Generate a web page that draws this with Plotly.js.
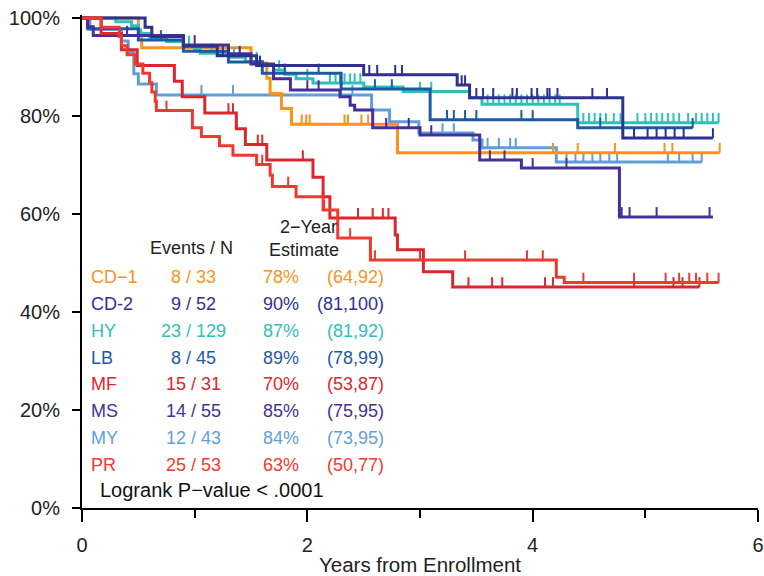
<!DOCTYPE html>
<html>
<head>
<meta charset="utf-8">
<script src="https://cdn.plot.ly/plotly-3.0.1.min.js"></script>
<style>html,body{margin:0;padding:0;background:#fff}#chart{width:764px;height:576px}</style>
</head>
<body>
<div id="chart"></div>
<script>
// ---- Data (years from enrollment, survival %) ----
const groups   = ['CD\u22121', 'CD-2', 'HY', 'LB', 'MF', 'MS', 'MY', 'PR'];
const nEvents  = [8, 9, 23, 8, 15, 14, 12, 25];
const nTotal   = [33, 52, 129, 45, 31, 55, 43, 53];
const est2yr   = [78, 90, 87, 89, 70, 85, 84, 63];
const ciLow    = [64, 81, 81, 78, 53, 75, 73, 50];
const ciHigh   = [92, 100, 92, 99, 87, 95, 95, 77];
const colors   = ['#f7941d', '#2e3192', '#2fc0b8', '#1d5aa3', '#d9272e', '#45309a', '#5f9fd8', '#ee3a30'];
const yTickVals = [0, 20, 40, 60, 80, 100];
const yTickText = ['0%', '20%', '40%', '60%', '80%', '100%'];
const xTickVals = [0, 2, 4, 6];
const xTickText = ['0', '2', '4', '6'];
const xMinorVals = [1, 3, 5];

const cd1_t = [0, 0.50, 0.53, 1.50, 1.64, 1.67, 1.77, 1.86, 2.80, 5.66];
const cd1_s = [100, 97.0, 93.9, 90.8, 87.7, 84.6, 81.5, 78.3, 72.5, 72.5];
const cd1_c = [1.95, 1.99, 2.02, 2.33, 2.36, 2.48, 2.54, 3.53, 4.18, 4.40, 4.73, 5.17, 5.24, 5.66];

const cd2_t = [0, 0.56, 0.62, 0.90, 1.20, 1.55, 2.50, 3.33, 3.44, 4.80, 5.60];
const cd2_s = [100, 98.1, 96.2, 94.2, 92.3, 90.3, 88.4, 86.3, 83.7, 75.5, 75.5];
const cd2_c = [1.25, 1.30, 1.40, 1.58, 2.55, 2.62, 2.78, 2.84, 3.37, 3.40, 3.50, 3.56, 3.65, 3.82, 3.86, 3.99, 4.04, 4.13, 4.15, 4.22, 4.53, 4.66, 4.90, 5.02, 5.10, 5.18, 5.26, 5.34, 5.60];

const hy_t = [0, 0.30, 0.44, 0.50, 0.52, 0.60, 0.75, 0.90, 1.00, 1.05, 1.30, 1.45, 1.60, 1.70, 1.80, 1.90, 2.05, 2.50, 2.85, 3.44, 3.55, 4.40, 5.65];
const hy_s = [100, 99.2, 98.4, 97.6, 96.8, 96.0, 95.2, 94.4, 93.6, 92.8, 92.0, 91.1, 90.3, 89.4, 88.5, 87.6, 86.7, 85.9, 85.0, 83.7, 82.4, 78.6, 78.6];
const hy_c = [0.95, 1.15, 1.35, 1.55, 1.75, 2.00, 2.20, 2.25, 2.29, 2.33, 2.38, 2.42, 2.47, 3.00, 3.10, 3.60, 3.65, 3.70, 3.75, 3.80, 3.85, 3.90, 3.95, 4.00, 4.05, 4.10, 4.15, 4.20, 4.24, 4.45, 4.50, 4.55, 4.60, 4.65, 4.72, 4.78, 4.93, 5.00, 5.05, 5.10, 5.15, 5.20, 5.25, 5.30, 5.38, 5.45, 5.50, 5.55, 5.60, 5.65];

const lb_t = [0, 0.05, 0.50, 0.90, 1.30, 1.60, 2.30, 3.09, 4.40, 5.42];
const lb_s = [100, 97.8, 95.5, 93.2, 91.0, 88.7, 85.5, 79.2, 77.6, 77.6];
const lb_c = [0.70, 1.80, 2.10, 2.60, 2.75, 3.24, 3.30, 3.40, 3.50, 3.90, 4.00, 4.60, 5.42];

const mf_t = [0, 0.17, 0.35, 0.49, 0.82, 0.89, 1.09, 1.37, 1.45, 1.64, 2.05, 2.14, 2.20, 2.78, 2.80, 3.03, 3.29, 5.48];
const mf_s = [100, 96.8, 93.5, 90.3, 87.1, 83.9, 80.6, 77.4, 74.2, 71.0, 67.5, 63.5, 59.2, 55.7, 52.7, 48.2, 45.1, 45.1];
const mf_c = [1.30, 1.34, 1.56, 1.60, 1.96, 2.45, 2.58, 2.67, 2.72, 3.43, 3.64, 3.73, 4.11, 4.18, 4.90, 5.25, 5.33, 5.48];

const ms_t = [0, 0.05, 0.10, 0.90, 1.30, 1.50, 1.70, 1.85, 2.29, 2.38, 2.42, 2.58, 3.00, 3.53, 3.90, 4.77, 5.60];
const ms_s = [100, 98.2, 96.4, 94.5, 92.7, 90.6, 87.6, 85.3, 83.9, 82.2, 81.2, 77.6, 76.1, 71.0, 69.4, 59.4, 59.4];
const ms_c = [0.40, 1.00, 2.00, 2.10, 2.70, 2.90, 3.10, 3.62, 3.75, 4.00, 4.30, 4.79, 4.86, 5.10, 5.57];

const my_t = [0, 0.07, 0.35, 0.41, 0.46, 0.50, 0.66, 2.57, 2.73, 2.99, 3.47, 3.55, 4.21, 5.50];
const my_s = [100, 97.7, 95.3, 93.0, 88.6, 86.5, 84.3, 81.2, 78.8, 76.5, 75.1, 73.5, 70.6, 70.6];
const my_c = [1.06, 1.34, 2.30, 2.40, 3.20, 3.30, 3.60, 3.70, 3.80, 3.85, 4.30, 4.38, 4.45, 4.53, 4.60, 4.68, 4.75, 5.20, 5.30, 5.42, 5.50];

const pr_t = [0, 0.17, 0.33, 0.35, 0.40, 0.47, 0.54, 0.60, 0.62, 0.65, 0.66, 0.98, 1.06, 1.22, 1.34, 1.55, 1.67, 1.69, 1.90, 2.14, 2.27, 2.56, 4.21, 4.28, 5.65];
const pr_s = [100, 98.1, 96.2, 94.3, 92.5, 90.6, 88.7, 86.8, 84.9, 83.0, 81.1, 77.6, 75.8, 73.9, 72.0, 70.1, 67.9, 65.6, 63.5, 60.8, 55.1, 50.6, 47.1, 46.0, 46.0];
const pr_c = [0.75, 1.60, 1.83, 2.15, 2.38, 2.60, 3.00, 3.40, 3.95, 4.09, 4.45, 4.90, 5.18, 5.30, 5.39, 5.45, 5.55, 5.65];

const series = [
  {t: my_t, s: my_s, c: my_c, k: 6},
  {t: cd1_t, s: cd1_s, c: cd1_c, k: 0},
  {t: hy_t, s: hy_s, c: hy_c, k: 2},
  {t: lb_t, s: lb_s, c: lb_c, k: 3},
  {t: ms_t, s: ms_s, c: ms_c, k: 5},
  {t: cd2_t, s: cd2_s, c: cd2_c, k: 1},
  {t: mf_t, s: mf_s, c: mf_c, k: 4},
  {t: pr_t, s: pr_s, c: pr_c, k: 7}
];

function stepAt(t, s, x) {
  let v = s[0];
  for (let i = 0; i < t.length; i++) { if (t[i] <= x) v = s[i]; }
  return v;
}

const traces = [];
series.forEach(d => {
  const col = colors[d.k];
  traces.push({
    x: d.t, y: d.s, type: 'scatter', mode: 'lines',
    line: {shape: 'hv', color: col, width: 3},
    name: groups[d.k], showlegend: false, hoverinfo: 'skip'
  });
  traces.push({
    x: d.c, y: d.c.map(x => stepAt(d.t, d.s, x)),
    type: 'scatter', mode: 'markers',
    marker: {size: 1, color: col},
    error_y: {type: 'constant', symmetric: false, value: 2.0, valueminus: 0, width: 0, thickness: 2, color: col},
    showlegend: false, hoverinfo: 'skip'
  });
});

// ---- Table annotations ----
const font = 'Liberation Sans, Arial, Helvetica, sans-serif';
const ann = [];
const rowTop = 47.1, rowStep = 5.47;
groups.forEach((g, i) => {
  const y = rowTop - i * rowStep;
  const col = colors[i];
  ann.push({x: 0.06, y: y, xref: 'x', yref: 'y', text: g, showarrow: false, xanchor: 'left', font: {family: font, size: 18, color: col}});
  ann.push({x: 0.99, y: y, xref: 'x', yref: 'y', text: nEvents[i] + ' / ' + nTotal[i], showarrow: false, xanchor: 'center', font: {family: font, size: 18, color: col}});
  ann.push({x: 1.765, y: y, xref: 'x', yref: 'y', text: est2yr[i] + '%', showarrow: false, xanchor: 'center', font: {family: font, size: 18, color: col}});
  ann.push({x: 2.70, y: y, xref: 'x', yref: 'y', text: '(' + ciLow[i] + ',' + ciHigh[i] + ')', showarrow: false, xanchor: 'right', font: {family: font, size: 18, color: col}});
});
ann.push({x: 0.975, y: 53.0, xref: 'x', yref: 'y', text: 'Events / N', showarrow: false, xanchor: 'center', font: {family: font, size: 18, color: '#222'}});
ann.push({x: 2.01, y: 57.3, xref: 'x', yref: 'y', text: '2\u2212Year', showarrow: false, xanchor: 'center', font: {family: font, size: 18, color: '#222'}});
ann.push({x: 1.97, y: 52.7, xref: 'x', yref: 'y', text: 'Estimate', showarrow: false, xanchor: 'center', font: {family: font, size: 18, color: '#222'}});
ann.push({x: 0.14, y: 3.7, xref: 'x', yref: 'y', text: 'Logrank P\u2212value < .0001', showarrow: false, xanchor: 'left', font: {family: font, size: 20, color: '#111'}});

const layout = {
  width: 764, height: 576,
  margin: {l: 82, r: 6, t: 15, b: 68},
  paper_bgcolor: '#fff', plot_bgcolor: '#fff',
  font: {family: font, size: 18, color: '#222'},
  showlegend: false,
  xaxis: {
    range: [0, 6], showgrid: false, zeroline: false,
    showline: true, linecolor: '#000', linewidth: 2,
    ticks: 'outside', ticklen: 12, tickwidth: 2, tickcolor: '#000',
    tickmode: 'array', tickvals: xTickVals, ticktext: xTickText,
    minor: {tickvals: xMinorVals, ticks: 'outside', ticklen: 8, tickwidth: 2, tickcolor: '#000'},
    ticklabelstandoff: 6,
    tickfont: {family: font, size: 20, color: '#222'},
    title: {text: 'Years from Enrollment', font: {family: font, size: 20.5, color: '#222'}, standoff: 3}
  },
  yaxis: {
    range: [0, 100.6], showgrid: false, zeroline: false,
    showline: true, linecolor: '#000', linewidth: 2,
    ticks: 'outside', ticklen: 8, tickwidth: 2, tickcolor: '#000',
    tickmode: 'array', tickvals: yTickVals, ticktext: yTickText,
    ticklabelstandoff: 8,
    tickfont: {family: font, size: 20, color: '#222'}
  },
  annotations: ann
};

Plotly.newPlot('chart', traces, layout, {staticPlot: true, displayModeBar: false});
</script>
</body>
</html>
